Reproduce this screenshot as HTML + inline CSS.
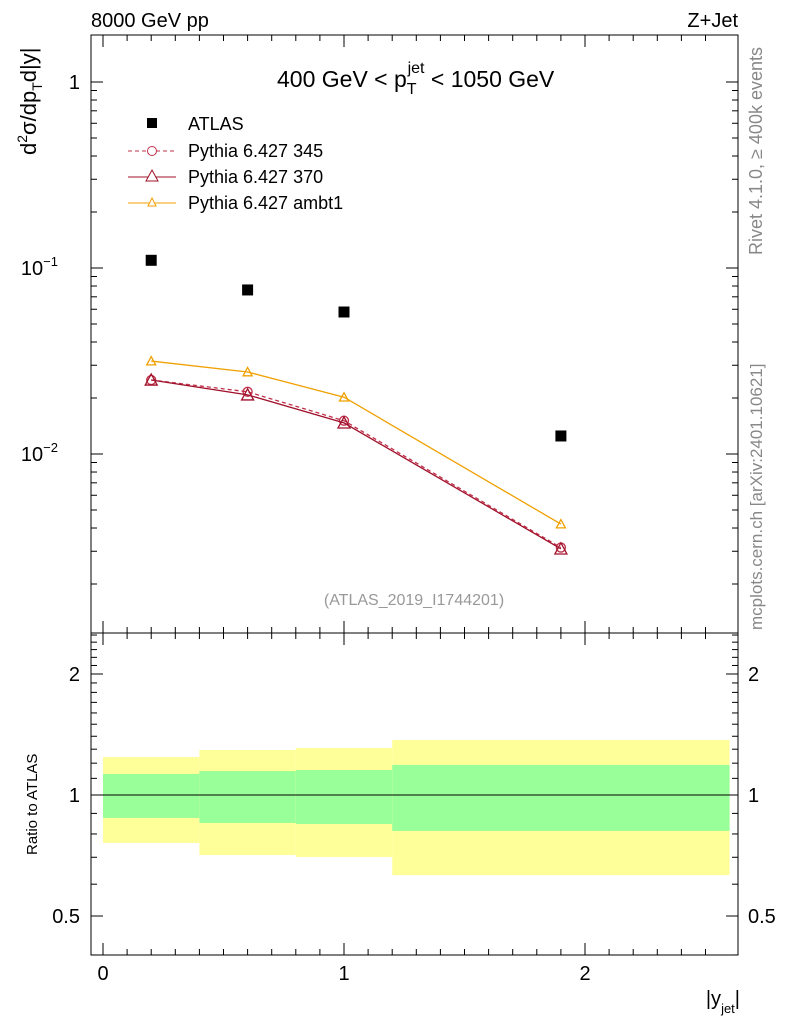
<!DOCTYPE html>
<html><head><meta charset="utf-8"><style>
body{margin:0;background:#fff;}
svg{font-family:"Liberation Sans",sans-serif;}
</style></head><body>
<svg id="c" width="786" height="1024" viewBox="0 0 786 1024">
<text x="91" y="27" font-size="20">8000 GeV pp</text>
<text x="738" y="27" font-size="20" text-anchor="end">Z+Jet</text>
<text x="277" y="87" font-size="23">400 GeV &lt; p<tspan font-size="16" dy="7">T</tspan><tspan font-size="16" dx="-9" dy="-21">jet</tspan><tspan dy="14"> &lt; 1050 GeV</tspan></text>
<text transform="translate(762,255) rotate(-90)" font-size="18" fill="#888">Rivet 4.1.0, ≥ 400k events</text>
<text transform="translate(762,630) rotate(-90)" font-size="17" fill="#888">mcplots.cern.ch [arXiv:2401.10621]</text>
<text x="414" y="605" font-size="16" fill="#999" text-anchor="middle">(ATLAS_2019_I1744201)</text>
<text transform="translate(36,155) rotate(-90)" font-size="22">d<tspan font-size="14" dy="-9">2</tspan><tspan dy="9">σ/dp</tspan><tspan font-size="14" dy="6">T</tspan><tspan dy="-6">d|y|</tspan></text>
<text transform="translate(37,855) rotate(-90)" font-size="15">Ratio to ATLAS</text>
<text x="740" y="1005" font-size="20" text-anchor="end">|y<tspan font-size="13" dy="8">jet</tspan><tspan dy="-8">|</tspan></text>
<g id="g"></g>
<g>
<g><rect x="147" y="118" width="10" height="10" fill="#000"/><text x="188" y="130" font-size="18">ATLAS</text></g>
<g><line x1="128" y1="151" x2="176" y2="151" stroke="#c0304a" stroke-dasharray="4,3"/><circle cx="152" cy="151" r="4.5" fill="#fff" stroke="#c0304a"/><text x="188" y="157" font-size="18">Pythia 6.427 345</text></g>
<g><line x1="128" y1="177" x2="176" y2="177" stroke="#a0102a"/><path d="M152,170 L158,181 L146,181 Z" fill="#fff" stroke="#a0102a"/><text x="188" y="183" font-size="18">Pythia 6.427 370</text></g>
<g><line x1="128" y1="203" x2="176" y2="203" stroke="#f0a000"/><path d="M152,198 L156,206 L148,206 Z" fill="#fff" stroke="#f0a000"/><text x="188" y="209" font-size="18">Pythia 6.427 ambt1</text></g>
</g>
</svg>
<script>
const xVals=[0.2,0.6,1.0,1.9];
const atlas=[0.110,0.0762,0.058,0.0125];
const p345=[0.025,0.0216,0.0151,0.00314];
const p370=[0.025,0.0208,0.0147,0.00309];
const ambt1=[0.0316,0.0276,0.0202,0.0042];
const binEdges=[0,0.4,0.8,1.2,2.6];
const yellowHi=[1.243,1.294,1.309,1.37];
const yellowLo=[0.76,0.709,0.701,0.632];
const greenHi=[1.128,1.147,1.154,1.188];
const greenLo=[0.877,0.852,0.847,0.814];
const xTicks=[0,1,2];
const NS="http://www.w3.org/2000/svg";
const g=document.getElementById('g');
const L=91,R=738,T=35,B=633,RB=955;
const X=v=>103+241*v;
const Y=v=>82-186*Math.log10(v);
const RY=v=>795-402*Math.log10(v);
function mk(t,a,p){const e=document.createElementNS(NS,t);for(const k in a)e.setAttribute(k,a[k]);(p||g).appendChild(e);return e;}
for(let i=0;i<yellowHi.length;i++){
 const y=mk('rect',{x:X(binEdges[i]),y:RY(yellowHi[i]),width:X(binEdges[i+1])-X(binEdges[i]),height:RY(yellowLo[i])-RY(yellowHi[i]),fill:'#ffff99'});
 
 
 const gr=mk('rect',{x:X(binEdges[i]),y:RY(greenHi[i]),width:X(binEdges[i+1])-X(binEdges[i]),height:RY(greenLo[i])-RY(greenHi[i]),fill:'#99ff99'});
 
 
}
const one=mk('line',{x1:X(0),x2:X(2.6),y1:RY(1),y2:RY(1),stroke:'#000'});


const f1=mk('rect',{x:L,y:T,width:R-L,height:B-T,fill:'none',stroke:'#000'});


const f2=mk('rect',{x:L,y:B,width:R-L,height:RB-B,fill:'none',stroke:'#000'});


for(let v=0;v<=2.6;v+=0.1){
 const big=Math.abs(v-Math.round(v))<1e-6;const len=big?12:6;const x=X(v);
 for(const [a,dir] of [[B,-1],[T,1],[RB,-1],[B,1]]) mk('line',{x1:x,x2:x,y1:a,y2:a+dir*len,stroke:'#000'});
}
xTicks.forEach(v=>{const t=mk('text',{x:X(v),y:980,'font-size':20,'text-anchor':'middle'});t.textContent=v;

});
for(let e=-3;e<=0;e++)for(let m=1;m<10;m++){const v=m*Math.pow(10,e);const y=Y(v);if(y<T||y>B)continue;const len=m==1?12:6;
 mk('line',{x1:L,x2:L+len,y1:y,y2:y,stroke:'#000'});mk('line',{x1:R,x2:R-len,y1:y,y2:y,stroke:'#000'});}
[[1,'1'],[0.1,'10'],[0.01,'10']].forEach(([v,s],i)=>{const t=mk('text',{x:i?58:80,y:Y(v)+7,'font-size':20,'text-anchor':'end'});
t.textContent=s;if(i){const sp=mk('tspan',{'font-size':13,dy:-9},t);sp.textContent=i==1?'−1':'−2';}

});
for(let k=4;k<=25;k++){const v=k/10;const y=RY(v);const big=(k==5||k==10||k==20);const len=big?12:6;
 mk('line',{x1:L,x2:L+len,y1:y,y2:y,stroke:'#000'});mk('line',{x1:R,x2:R-len,y1:y,y2:y,stroke:'#000'});}
[[2,'2'],[1,'1'],[0.5,'0.5']].forEach(([v,s])=>{for(const [x,a] of [[80,'end'],[748,'start']]){const t=mk('text',{x:x,y:RY(v)+7,'font-size':20,'text-anchor':a});t.textContent=s;

}});
function series(vals,color,dash,marker,name){
 const pts=xVals.map((x,i)=>X(x)+','+Y(vals[i])).join(' ');
 const l=mk('polyline',{points:pts,fill:'none',stroke:color,'stroke-width':1.3});if(dash)l.setAttribute('stroke-dasharray',dash);
 
 
 xVals.forEach((x,i)=>{const cx=X(x),cy=Y(vals[i]);let m;
  if(marker=='c')m=mk('circle',{cx:cx,cy:cy,r:4.5,fill:'none',stroke:color,'stroke-width':1.3});
  else{const s=marker=='T'?6:4.5;m=mk('path',{d:`M${cx},${cy-s} L${cx+s},${cy+s*0.85} L${cx-s},${cy+s*0.85} Z`,fill:'none',stroke:color,'stroke-width':1.3});}
  
  });
}
series(ambt1,'#f0a000',null,'t','ambt1');
series(p345,'#c0304a','4,3','c','pythia-345');
series(p370,'#a0102a',null,'T','pythia-370');
xVals.forEach((x,i)=>{const r=mk('rect',{x:X(x)-5.5,y:Y(atlas[i])-5.5,width:11,height:11,fill:'#000'});

});
</script>
</body></html>
